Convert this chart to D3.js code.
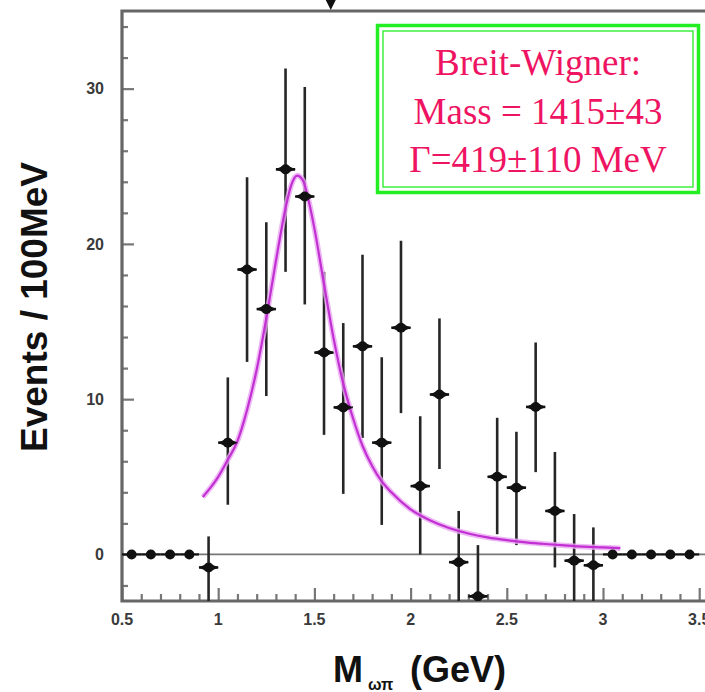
<!DOCTYPE html>
<html>
<head>
<meta charset="utf-8">
<script src="https://cdn.jsdelivr.net/npm/d3@7"></script>
<style>
  html, body { margin: 0; padding: 0; background: #fff; }
  svg { display: block; }
</style>
</head>
<body>
<svg id="chart" width="705" height="692"></svg>
<script>
// ---- data ----
const binCenters = [0.55,0.65,0.75,0.85,0.95,1.05,1.15,1.25,1.35,1.45,1.55,1.65,1.75,1.85,1.95,2.05,2.15,2.25,2.35,2.45,2.55,2.65,2.75,2.85,2.95,3.05,3.15,3.25,3.35,3.45];
const events     = [0,0,0,0,-0.84,7.2,18.35,15.8,24.8,23.05,13.0,9.47,13.4,7.2,14.6,4.4,10.3,-0.5,-2.7,5.0,4.3,9.5,2.8,-0.4,-0.7,0,0,0,0,0];
const errHigh    = [null,null,null,null,1.16,11.4,24.3,21.4,31.3,30.1,18.2,14.9,19.3,12.7,20.2,8.9,15.2,2.8,0.6,8.8,7.9,13.65,6.6,2.6,1.74,null,null,null,null,null];
const errLow     = [null,null,null,null,-3.0,3.2,12.4,10.2,18.2,16.1,7.7,3.9,7.5,1.9,9.1,0.0,5.5,-3.2,-3.2,1.3,0.6,5.3,-0.84,-3.2,-3.2,null,null,null,null,null];
const binWidth = 0.1;

// Breit-Wigner fit curve
const fitX = [0.92,0.96,1.0,1.05,1.1,1.15,1.2,1.25,1.3,1.35,1.38,1.41,1.44,1.47,1.5,1.55,1.6,1.65,1.7,1.75,1.8,1.85,1.9,2.0,2.1,2.2,2.3,2.4,2.5,2.6,2.7,2.8,2.9,3.0,3.09];
const fitY = [3.7,4.3,5.0,6.1,7.3,9.3,11.9,15.2,18.9,22.3,23.8,24.4,24.1,22.8,21.0,17.4,13.9,11.0,8.8,7.0,5.7,4.7,4.0,2.9,2.2,1.7,1.35,1.1,0.92,0.78,0.67,0.58,0.5,0.45,0.4];

const xTickLabels = ["0.5","1","1.5","2","2.5","3","3.5"];
const yTickLabels = ["0","10","20","30"];
const legendLines = ["Breit-Wigner:", "Mass = 1415\u00B143", "\u0393=419\u00B1110 MeV"];
const arrowAt = [1.585];
const yAxisTitle = "Events / 100MeV";

// ---- scales ----
const svg = d3.select("#chart");
const x = d3.scaleLinear().domain([0.5, 3.6]).range([122, 122 + 3.1 * 192.4]);
const y = d3.scaleLinear().domain([-3, 35]).range([601, 11]);

const L = 122, R = x.range()[1], T = 11, B = 601;

svg.append("defs").append("clipPath").attr("id", "plotclip")
  .append("rect").attr("x", L).attr("y", T).attr("width", R - L).attr("height", B - T);

// zero line
svg.append("line")
  .attr("x1", L).attr("x2", R).attr("y1", y(0)).attr("y2", y(0))
  .attr("stroke", "#777").attr("stroke-width", 1.6);

// ---- axes (ticks inward) ----
const frameColor = "#666";
const xMinor = d3.range(6, 36).map(d => d / 10).filter(v => Math.abs(v * 2 - Math.round(v * 2)) > 1e-6);
const xMajor = xTickLabels.map(Number);
const gx = svg.append("g").attr("transform", `translate(0,${B})`);
gx.call(d3.axisTop(x).tickValues(xMinor).tickSize(7).tickFormat(""));
gx.call(g => g.select(".domain").remove());
const gx2 = svg.append("g").attr("transform", `translate(0,${B})`);
gx2.call(d3.axisTop(x).tickValues(xMajor).tickSize(13).tickFormat(""));
gx2.call(g => g.select(".domain").remove());
[gx, gx2].forEach(g => g.selectAll(".tick line").attr("stroke", "#777").attr("stroke-width", 2.2));

const yMinor = d3.range(-2, 36, 2).filter(v => v % 10 !== 0);
const yMajor = yTickLabels.map(Number);
const gy = svg.append("g").attr("transform", `translate(${L},0)`);
gy.call(d3.axisRight(y).tickValues(yMinor).tickSize(6).tickFormat(""));
gy.call(g => g.select(".domain").remove());
const gy2 = svg.append("g").attr("transform", `translate(${L},0)`);
gy2.call(d3.axisRight(y).tickValues(yMajor).tickSize(12).tickFormat(""));
gy2.call(g => g.select(".domain").remove());
[gy, gy2].forEach(g => g.selectAll(".tick line").attr("stroke", "#777").attr("stroke-width", 2.2));

// tick labels
svg.append("g").selectAll("text").data(xTickLabels).join("text")
  .attr("x", d => x(+d)).attr("y", 625)
  .attr("text-anchor", "middle")
  .attr("font-family", "Liberation Sans, Arial, sans-serif")
  .attr("font-weight", "bold").attr("font-size", 16).attr("fill", "#3a3a3a")
  .text(d => d);
svg.append("g").selectAll("text").data(yTickLabels).join("text")
  .attr("x", 104).attr("y", d => y(+d)).attr("dy", "0.36em")
  .attr("text-anchor", "end")
  .attr("font-family", "Liberation Sans, Arial, sans-serif")
  .attr("font-weight", "bold").attr("font-size", 16).attr("fill", "#3a3a3a")
  .text(d => d);

// frame lines (left, bottom, top)
svg.append("path")
  .attr("d", `M${R + 5},${T} L${L},${T} L${L},${B} L${R + 5},${B}`)
  .attr("fill", "none").attr("stroke", frameColor).attr("stroke-width", 3.2);

// arrow at top
svg.append("g").selectAll("path").data(arrowAt).join("path")
  .attr("d", d => `M${x(d) - 5},0 L${x(d) + 5},0 L${x(d)},10 Z`)
  .attr("fill", "#111");

// ---- data marks ----
const plot = svg.append("g").attr("clip-path", "url(#plotclip)");
const pts = binCenters.map((c, i) => ({ c, v: events[i], hi: errHigh[i], lo: errLow[i] }));

// vertical error bars
plot.append("g").selectAll("line").data(pts.filter(p => p.hi !== null)).join("line")
  .attr("x1", p => x(p.c)).attr("x2", p => x(p.c))
  .attr("y1", p => y(p.hi)).attr("y2", p => y(p.lo))
  .attr("stroke", "#262626").attr("stroke-width", 2.6);

// horizontal bin-width bars
plot.append("g").selectAll("line").data(pts).join("line")
  .attr("x1", p => x(p.c - binWidth / 2)).attr("x2", p => x(p.c + binWidth / 2))
  .attr("y1", p => y(p.v)).attr("y2", p => y(p.v))
  .attr("stroke", "#111").attr("stroke-width", p => p.v === 0 ? 2.2 : 2.6);

// fit curve
const line = d3.line().x((d, i) => x(fitX[i])).y((d, i) => y(fitY[i])).curve(d3.curveMonotoneX);
plot.append("path").datum(fitY).attr("d", line)
  .attr("fill", "none").attr("stroke", "#eaa6f2").attr("stroke-width", 5.5).attr("stroke-opacity", 0.8);
plot.append("path").datum(fitY).attr("d", line)
  .attr("fill", "none").attr("stroke", "#c22fd2").attr("stroke-width", 2.2);

// markers
const mk = plot.append("g").selectAll("g").data(pts).join("g")
  .attr("transform", p => `translate(${x(p.c)},${y(p.v)})`);
mk.filter(p => p.v !== 0).append("path")
  .attr("d", "M-10,0 L0,-4.5 L10,0 L0,4.5 Z").attr("fill", "#111");
mk.append("circle").attr("r", 5).attr("fill", "#111");

// ---- legend box ----
const lg = svg.append("g");
lg.append("rect").attr("x", 377.5).attr("y", 25.5).attr("width", 321).attr("height", 167)
  .attr("fill", "#fff").attr("stroke", "#22ee22").attr("stroke-width", 3.5);
lg.append("rect").attr("x", 383).attr("y", 31).attr("width", 310).attr("height", 156)
  .attr("fill", "none").attr("stroke", "#22ee22").attr("stroke-width", 1.3);
lg.selectAll("text").data(legendLines).join("text")
  .attr("x", 538).attr("y", (d, i) => 75 + i * 48.5)
  .attr("text-anchor", "middle")
  .attr("font-family", "Liberation Serif, 'Times New Roman', serif")
  .attr("font-size", 37).attr("fill", "#ee1462")
  .text(d => d);

// ---- axis titles ----
svg.append("text")
  .attr("transform", "translate(47,307) rotate(-90)")
  .attr("text-anchor", "middle")
  .attr("font-family", "Liberation Sans, Arial, sans-serif")
  .attr("font-weight", "bold").attr("font-size", 37).attr("fill", "#111")
  .text(yAxisTitle);

const xt = svg.append("text")
  .attr("x", 333).attr("y", 682)
  .attr("font-family", "Liberation Sans, Arial, sans-serif")
  .attr("font-weight", "bold").attr("fill", "#111");
xt.append("tspan").attr("font-size", 36).text("M");
xt.append("tspan").attr("font-size", 16).attr("dx", 5).attr("dy", 8).text("\u03C9\u03C0");
xt.append("tspan").attr("font-size", 36).attr("x", 410).attr("y", 682).text("(GeV)");
</script>
</body>
</html>
